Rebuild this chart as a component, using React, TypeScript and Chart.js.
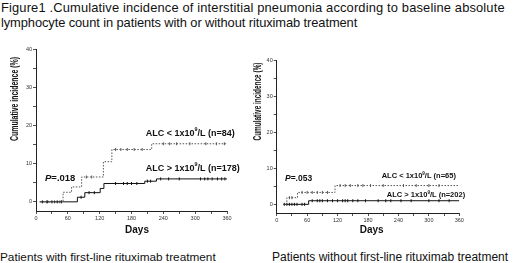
import React, { useEffect, useRef } from "react";
import { Chart, registerables } from "chart.js";
Chart.register(...registerables);

// ---- axes ----
const xTicks = [0, 30, 60, 90, 120, 150, 180, 210, 240, 270, 300, 330, 360];
const xLabelTicks = [0, 60, 120, 180, 240, 300, 360];
const yTicks = [0, 5, 10, 15, 20, 25, 30, 35, 40];
const yLabelTicks = [0, 10, 20, 30, 40];

// ---- left panel: with first-line rituximab ----
const leftLowDays = [7, 51, 67, 86, 127, 143, 218, 360];
const leftLowInc = [0, 2.5, 3.9, 6.5, 10.5, 13.7, 15.2, 15.2];
const leftLowCensor = [20, 35, 45, 95, 105, 150, 160, 172, 185, 200, 240, 252, 265, 290, 320, 340, 355];
const leftHighDays = [7, 78, 92, 121, 128, 205, 227, 360];
const leftHighInc = [0, 1.2, 2.4, 3.5, 4.8, 5.4, 6.0, 6.0];
const leftHighCensor = [12, 22, 30, 40, 48, 85, 100, 110, 150, 165, 172, 180, 190, 210, 216, 235, 250, 270, 310, 318, 324, 332, 342, 350, 356];

// ---- right panel: without first-line rituximab ----
const rightLowDays = [13, 20, 41, 115, 360];
const rightLowInc = [0, 1.85, 3.3, 5.2, 5.2];
const rightLowCensor = [25, 30, 50, 60, 70, 80, 90, 100, 125, 135, 145, 160, 170, 185, 210, 250, 275, 300, 320];
const rightHighDays = [13, 63, 360];
const rightHighInc = [0, 1.0, 1.0];
const rightHighCensor = [15, 20, 25, 30, 35, 40, 50, 55, 70, 80, 85, 90, 100, 110, 120, 130, 135, 140, 150, 160, 175, 200, 215, 225, 245, 265, 300, 320, 340];

const FONT = '"Liberation Sans", Arial, Helvetica, sans-serif';
const TXT = "#111";

type Run = { t: string; italic?: boolean; sup?: boolean };
type Label = {
  runs: Run[];
  size: number;
  bold?: boolean;
  dx?: number;
  dy?: number;
  px?: number;
  py?: number;
  align?: "left" | "center";
  rotate?: boolean;
  fit?: number;
};

const textPlugin = (labels: Label[]) => ({
  id: "texts",
  afterDraw(chart: any) {
    const ctx = chart.ctx as CanvasRenderingContext2D;
    labels.forEach((l) => {
      const x = l.dx !== undefined ? chart.scales.x.getPixelForValue(l.dx) : (l.px as number);
      const y = l.dy !== undefined ? chart.scales.y.getPixelForValue(l.dy) : (l.py as number);
      const fontFor = (r: Run) =>
        `${r.italic ? "italic " : ""}${l.bold ? "bold " : ""}${r.sup ? l.size * 0.6 : l.size}px ${FONT}`;
      ctx.save();
      ctx.translate(x, y);
      if (l.rotate) ctx.rotate(-Math.PI / 2);
      const widths = l.runs.map((r) => {
        ctx.font = fontFor(r);
        return ctx.measureText(r.t).width;
      });
      const total = widths.reduce((a, b) => a + b, 0);
      if (l.fit) ctx.scale(l.fit / total, 1);
      let start = l.align === "center" ? -total / 2 : 0;
      ctx.textBaseline = "middle";
      ctx.textAlign = "left";
      ctx.fillStyle = TXT;
      l.runs.forEach((r, i) => {
        ctx.font = fontFor(r);
        ctx.fillText(r.t, start, r.sup ? -l.size * 0.35 : 0);
        start += widths[i];
      });
      ctx.restore();
    });
  },
});

const stepValue = (days: number[], inc: number[], d: number) => {
  let v = inc[0];
  for (let i = 0; i < days.length; i++) if (days[i] <= d) v = inc[i];
  return v;
};

type PanelSpec = {
  low: [number[], number[], number[]];
  high: [number[], number[], number[]];
  yWidth: number;
  xHeight: number;
  padTop: number;
  padRight: number;
  tickSize: number;
  labels: Label[];
};

function buildConfig(p: PanelSpec): any {
  const line = (days: number[], inc: number[], color: string, dash: number[]) => ({
    data: days.map((d, i) => ({ x: d, y: inc[i] })),
    stepped: true,
    borderColor: color,
    borderWidth: 1,
    borderDash: dash,
    pointRadius: 0,
    fill: false,
  });
  const censor = (days: number[], inc: number[], cens: number[], color: string) => ({
    data: cens.map((d) => ({ x: d, y: stepValue(days, inc, d) })),
    showLine: false,
    pointStyle: "line",
    rotation: 90,
    pointRadius: 1.5,
    pointBorderWidth: 1,
    borderColor: color,
    backgroundColor: color,
  });
  const lowColor = "#555";
  const highColor = "#111";
  const axisCommon = {
    type: "linear",
    grid: { drawOnChartArea: false, drawTicks: true, tickLength: 3, color: "#222", lineWidth: 0.8 },
    border: { display: true, color: "#222", width: 1 },
  };
  return {
    type: "line",
    data: {
      datasets: [
        line(p.low[0], p.low[1], lowColor, [1.5, 1.5]),
        line(p.high[0], p.high[1], highColor, []),
        censor(p.low[0], p.low[1], p.low[2], lowColor),
        censor(p.high[0], p.high[1], p.high[2], highColor),
      ],
    },
    options: {
      responsive: false,
      animation: false,
      events: [],
      layout: { padding: { top: p.padTop, right: p.padRight, left: 0, bottom: 0 } },
      scales: {
        x: {
          ...axisCommon,
          min: 0,
          max: 360,
          afterBuildTicks: (s: any) => {
            s.ticks = xTicks.map((v) => ({ value: v }));
          },
          afterFit: (s: any) => {
            s.height = p.xHeight;
          },
          ticks: {
            autoSkip: false,
            maxRotation: 0,
            padding: 1,
            color: "#333",
            font: { size: p.tickSize, family: FONT },
            callback: (v: any) => (xLabelTicks.includes(Number(v)) ? String(v) : ""),
          },
        },
        y: {
          ...axisCommon,
          min: -2.4,
          max: 40,
          afterBuildTicks: (s: any) => {
            s.ticks = yTicks.map((v) => ({ value: v }));
          },
          afterFit: (s: any) => {
            s.width = p.yWidth;
          },
          ticks: {
            autoSkip: false,
            padding: 1,
            color: "#333",
            font: { size: p.tickSize, family: FONT },
            callback: (v: any) => (yLabelTicks.includes(Number(v)) ? String(v) : ""),
          },
        },
      },
      plugins: { legend: { display: false }, tooltip: { enabled: false }, title: { display: false } },
    },
    plugins: [textPlugin(p.labels)],
  };
}

const alcRuns = (op: string, n: string): Run[] => [
  { t: `ALC ${op} 1x10` },
  { t: "9", sup: true },
  { t: `/L (n=${n})` },
];

const leftSpec: PanelSpec = {
  low: [leftLowDays, leftLowInc, leftLowCensor],
  high: [leftHighDays, leftHighInc, leftHighCensor],
  yWidth: 36,
  xHeight: 29,
  padTop: 9,
  padRight: 23,
  tickSize: 5.5,
  labels: [
    { runs: [{ t: "Cumulative incidence (%)" }], size: 10, bold: true, px: 15, py: 59, rotate: true, align: "center", fit: 84 },
    { runs: [{ t: "Days" }], size: 10, bold: true, px: 137, py: 190, align: "center" },
    { runs: [{ t: "P", italic: true }, { t: "=.018" }], size: 9.5, bold: true, dx: 17, dy: 6.2 },
    { runs: alcRuns("<", "84"), size: 9, bold: true, dx: 207, dy: 18 },
    { runs: alcRuns(">", "178"), size: 9, bold: true, dx: 207, dy: 8.85 },
  ],
};

const rightSpec: PanelSpec = {
  low: [rightLowDays, rightLowInc, rightLowCensor],
  high: [rightHighDays, rightHighInc, rightHighCensor],
  yWidth: 26.7,
  xHeight: 27,
  padTop: 20,
  padRight: 60.7,
  tickSize: 5.5,
  labels: [
    { runs: [{ t: "Cumulative incidence (%)" }], size: 10, bold: true, px: 8.5, py: 61.5, rotate: true, align: "center", fit: 78 },
    { runs: [{ t: "Days" }], size: 10, bold: true, px: 121.7, py: 190, align: "center" },
    { runs: [{ t: "P", italic: true }, { t: "=.053" }], size: 8.5, bold: true, dx: 16.3, dy: 7.0 },
    { runs: alcRuns("<", "65"), size: 7.5, bold: true, dx: 207, dy: 7.8 },
    { runs: alcRuns(">", "202"), size: 7.5, bold: true, dx: 217, dy: 2.6 },
  ],
};

function Panel({ spec, left, width }: { spec: PanelSpec; left: number; width: number }) {
  const ref = useRef<HTMLCanvasElement | null>(null);
  useEffect(() => {
    if (!ref.current) return;
    const chart = new Chart(ref.current, buildConfig(spec));
    return () => chart.destroy();
  }, [spec]);
  return (
    <canvas
      ref={ref}
      width={width}
      height={200}
      style={{ position: "absolute", left, top: 40, width, height: 200 }}
    />
  );
}

export default function App() {
  return (
    <div
      style={{
        position: "fixed",
        left: 0,
        top: 0,
        width: 520,
        height: 263,
        background: "#fff",
        overflow: "hidden",
        fontFamily: FONT,
        color: TXT,
      }}
    >
      <div
        style={{
          position: "absolute",
          left: 1,
          top: 0,
          width: 540,
          fontSize: 12.9,
          lineHeight: "15px",
          whiteSpace: "nowrap",
        }}
      >
        <div style={{ letterSpacing: "0.15px" }}>
          Figure1 .Cumulative incidence of interstitial pneumonia according to baseline absolute
        </div>
        <div style={{ letterSpacing: "-0.1px" }}>lymphocyte count in patients with or without rituximab treatment</div>
      </div>
      <Panel spec={leftSpec} left={0} width={250} />
      <Panel spec={rightSpec} left={250} width={270} />
      <div style={{ position: "absolute", left: 0, top: 250, fontSize: 11.8, lineHeight: "14px", whiteSpace: "nowrap" }}>
        Patients with first-line rituximab treatment
      </div>
      <div style={{ position: "absolute", left: 272, top: 250, fontSize: 12, lineHeight: "14px", whiteSpace: "nowrap" }}>
        Patients without first-line rituximab treatment
      </div>
    </div>
  );
}
